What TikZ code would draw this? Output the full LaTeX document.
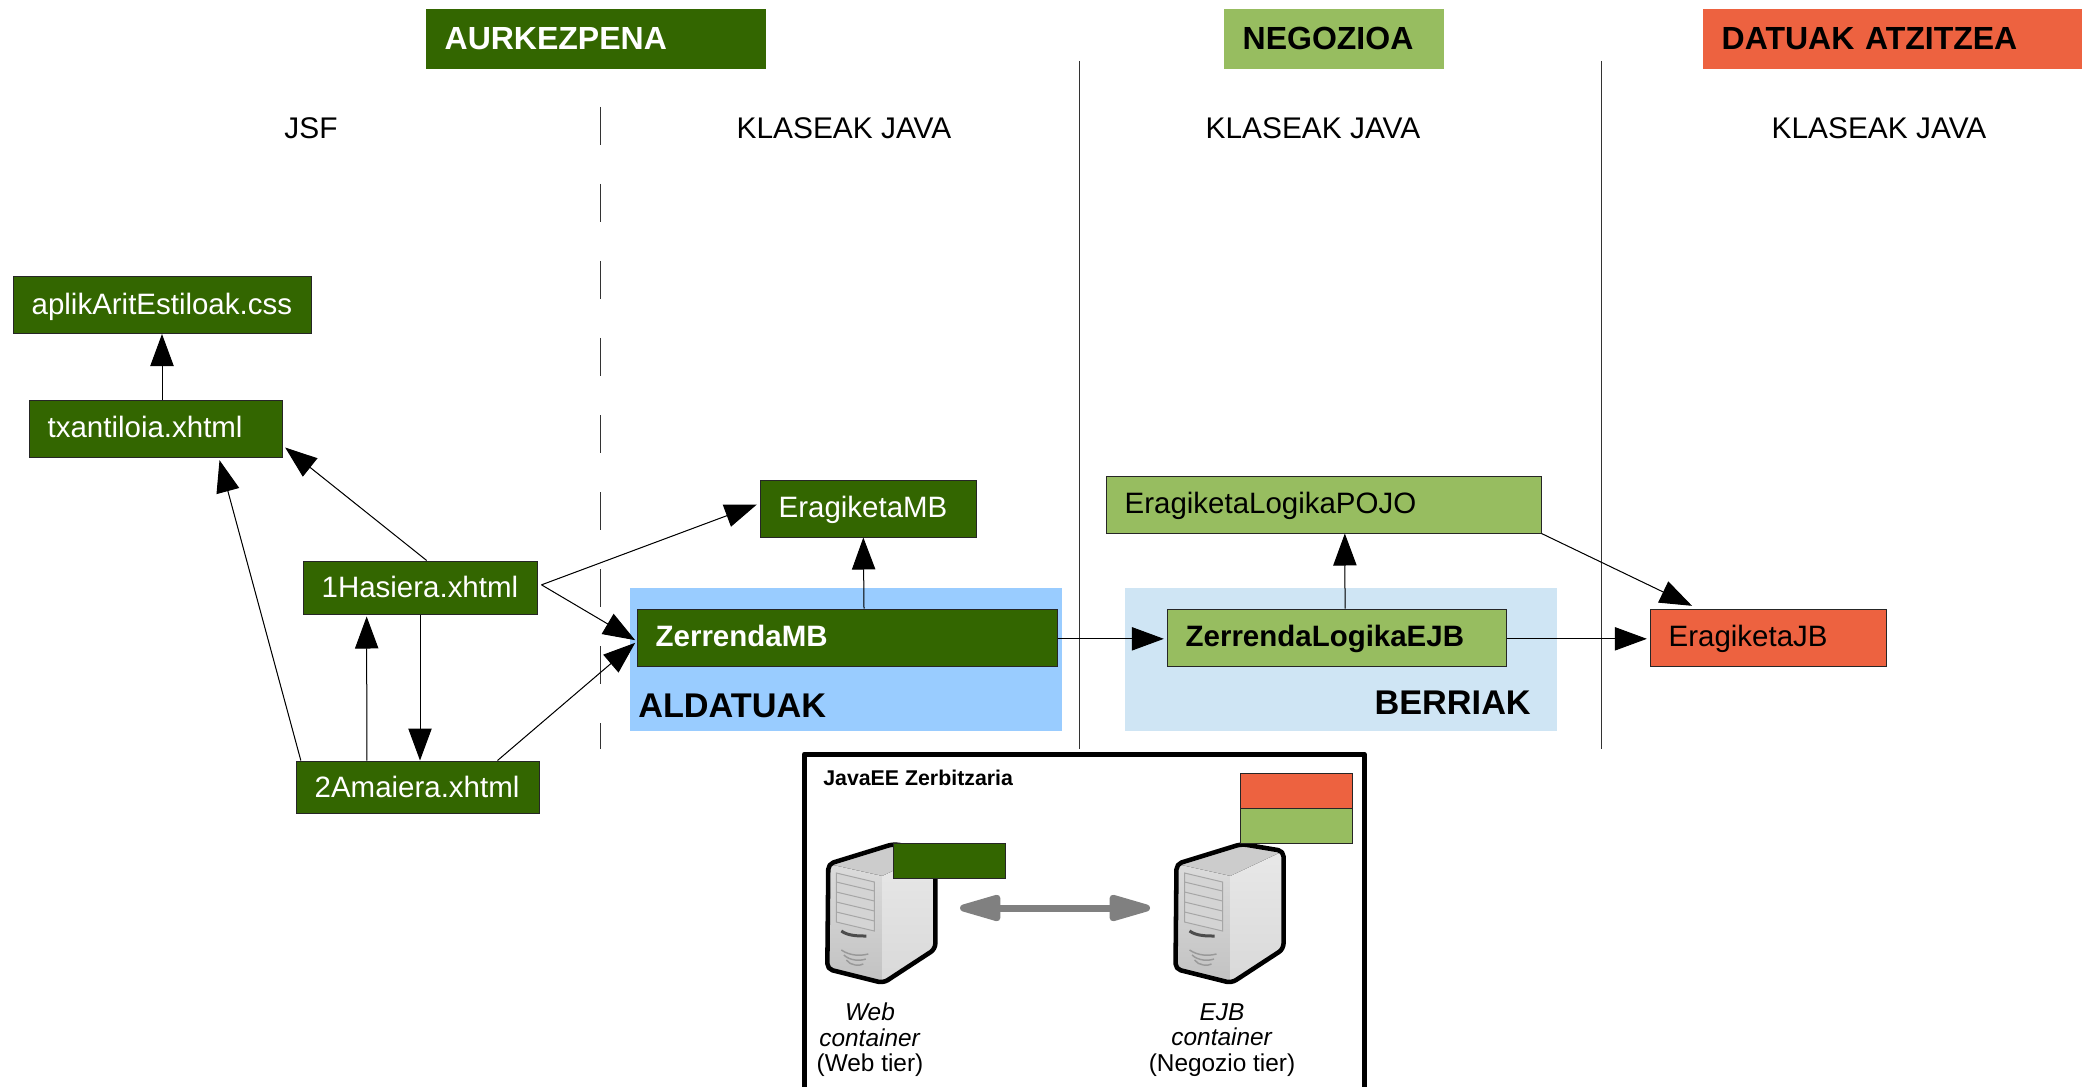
\documentclass[tikz,border=0pt]{standalone}
\usepackage{fontspec}
\setmainfont{Liberation Sans}
\usetikzlibrary{arrows.meta}
\definecolor{darkgreen}{HTML}{336600}
\definecolor{midgreen}{HTML}{97BD60}
\definecolor{brick}{HTML}{ED6240}
\definecolor{aldablue}{HTML}{99CCFF}
\definecolor{berriblue}{HTML}{CFE5F4}
\tikzset{
  tierbox/.style={draw=black!85,line width=0.75pt,inner xsep=14pt,inner ysep=0pt,align=left,minimum height=42.75pt,
    text height=17pt,text depth=3pt,font=\fontsize{22.1}{24}\selectfont},
  webbox/.style={tierbox,fill=darkgreen,text=white},
  logicbox/.style={tierbox,fill=midgreen},
  databox/.style={tierbox,fill=brick},
  headbox/.style={inner xsep=14pt,inner ysep=0pt,align=left,minimum height=45pt,text height=18pt,text depth=2pt,
    font=\fontsize{24}{26}\selectfont\bfseries},
  tierlabel/.style={font=\fontsize{22.4}{24}\selectfont},
  grouplabel/.style={font=\fontsize{25.7}{27}\selectfont\bfseries},
  containerlabel/.style={align=center,font=\fontsize{18.3}{19}\selectfont},
  arr/.style={-{Triangle[length=24pt,width=17.5pt]},line width=0.75pt,draw=black,fill=black},
  tierline/.style={line width=0.75pt,draw=black!80},
}
\newcommand{\servertower}[1]{
\begin{scope}[shift={#1}]
\fill[black!20] (0,20) -- (65,0) -- (107,7) -- (54,32) -- cycle;
\fill[top color=black!14,bottom color=black!24] (0,20) -- (54,32) -- (54,139) -- (0,125) -- cycle;
\fill[top color=black!9,bottom color=black!15] (54,32) -- (107,7) -- (107,105) -- (54,139) -- cycle;
\draw[black!35,line width=0.75pt,fill=black!17] (8,29) -- (46,38) -- (46,87) -- (8,78) -- cycle;
\foreach \vent in {9,19,29,39}
  \draw[black!35,line width=0.75pt] (8,29+\vent) -- (46,38+\vent);
\draw[black!70,line width=2.25pt] (13,87) .. controls (20,92) and (30,92) .. (38,92);
\foreach \vent in {0,5,10}
  \draw[black!40,line width=1.1pt] (13+\vent/2,106+\vent) .. controls (22,112+\vent) and (32,112+\vent) .. (40-\vent/2,110+\vent);
\draw[line width=3.4pt,line join=round,rounded corners=4pt] (0,20) -- (65,0) -- (107,7) -- (107,105) -- (55,139) -- (-1,125) -- cycle;
\end{scope}
}
\begin{document}
\begin{tikzpicture}[x=0.75pt,y=0.75pt,yscale=-1,xscale=1]
\clip (0,0) rectangle (2090,1087);
\fill[white] (0,0) rectangle (2090,1087);

% tier headers
\node[headbox,fill=darkgreen,text=white,text width=227pt] (aurkezpena) at (596,39) {AURKEZPENA};
\node[headbox,fill=midgreen,text width=137pt] (negozioa) at (1334,39) {NEGOZIOA};
\node[headbox,fill=brick,text width=256.25pt] (datuak) at (1892.5,39) {DATUAK ATZITZEA};

\node[tierlabel] (jsf) at (311,128) {JSF};
\node[tierlabel] (klasePres) at (844,128) {KLASEAK JAVA};
\node[tierlabel] (klaseNeg) at (1313,128) {KLASEAK JAVA};
\node[tierlabel] (klaseDat) at (1879,128) {KLASEAK JAVA};

% tier separators
\draw[tierline,dash pattern=on 28.5pt off 29.25pt] (600,107) -- (600,749);
\draw[tierline] (1079,61) -- (1079,749);
\draw[tierline] (1601,61) -- (1601,749);

% group backgrounds
\fill[aldablue] (630,588) rectangle (1062,731);
\fill[berriblue] (1125,588) rectangle (1557,731);
\node[grouplabel,anchor=west,inner sep=0pt] (aldatuak) at (638,706) {ALDATUAK};
\node[grouplabel,anchor=east,inner sep=0pt] (berriak) at (1531,703) {BERRIAK};

% boxes
\node[webbox,text width=195.5pt] (aplik) at (162,305) {aplikAritEstiloak.css};
\node[webbox,text width=161.75pt] (txantiloia) at (155.5,428.5) {txantiloia.xhtml};
\node[webbox,text width=147.5pt,minimum height=39.75pt,text depth=1.5pt] (hasiera) at (420,587.5) {1Hasiera.xhtml};
\node[webbox,text width=154.25pt,minimum height=39pt,text depth=1.5pt] (amaiera) at (417.5,787) {2Amaiera.xhtml};
\node[webbox,text width=134pt] (eragiketaMB) at (868,508.5) {EragiketaMB};
\node[webbox,text width=287pt] (zerrendaMB) at (847,637.5) {\textbf{ZerrendaMB}};
\node[logicbox,text width=226.25pt] (zerrendaEJB) at (1336.5,637.5) {\textbf{ZerrendaLogikaEJB}};
\node[logicbox,text width=298.25pt] (logikaPOJO) at (1323.5,504.5) {EragiketaLogikaPOJO};
\node[databox,text width=149pt] (eragiketaJB) at (1768,637.5) {EragiketaJB};

% connectors
\draw[arr] (txantiloia.north -| aplik.south) -- (aplik.south);
\draw[arr] ([xshift=5pt]hasiera.north) -- ([xshift=2pt,yshift=-7.5pt]txantiloia.south east);
\draw[arr] ([xshift=4pt]amaiera.north west) -- ([xshift=48pt,yshift=2pt]txantiloia.south);
\draw[arr] ([xshift=-38pt]amaiera.north) -- ([xshift=-40pt,yshift=1.5pt]hasiera.south);
\draw[arr] (hasiera.south) -- (hasiera.south |- amaiera.north);
\draw[arr] ([xshift=3pt,yshift=-2pt]hasiera.east) -- ([xshift=-2pt,yshift=-3pt]eragiketaMB.west);
\draw[arr] ([xshift=3pt,yshift=-2pt]hasiera.east) -- ([xshift=-1pt,yshift=2pt]zerrendaMB.west);
\draw[arr] ([xshift=60pt]amaiera.north) -- ([xshift=-1pt,yshift=4pt]zerrendaMB.west);
\draw[arr] ([xshift=12.75pt]zerrendaMB.north) -- ([xshift=-3.5pt]eragiketaMB.south);
\draw[arr] ([yshift=1pt]zerrendaMB.east) -- ([xshift=-2pt,yshift=1pt]zerrendaEJB.west);
\draw[arr] ([xshift=6.4pt]zerrendaEJB.north) -- ([xshift=16pt]logikaPOJO.south);
\draw[arr] ([yshift=1pt]zerrendaEJB.east) -- ([xshift=-2pt,yshift=1pt]eragiketaJB.west);
\draw[arr] (logikaPOJO.south east) -- ([xshift=-57pt,yshift=-2pt]eragiketaJB.north);

% server box
\draw[line width=3.75pt,line join=round] (804.5,1100) -- (804.5,754) -- (1364,754) -- (1364,1100);
\node[anchor=west,inner sep=0pt,font=\fontsize{16}{18}\selectfont\bfseries] (zerbitzaria) at (823,778) {JavaEE Zerbitzaria};
\servertower{(828.3,844)}
\servertower{(1176.5,844)}
\node[draw=black!85,line width=0.75pt,fill=brick,inner sep=0pt,minimum width=84pt,minimum height=26.25pt] (tierData) at (1296,790.5) {};
\node[draw=black!85,line width=0.75pt,fill=midgreen,inner sep=0pt,minimum width=84pt,minimum height=26.25pt] (tierLogic) at (1296,825.5) {};
\node[draw=black!85,line width=0.75pt,fill=darkgreen,inner sep=0pt,minimum width=84pt,minimum height=26.25pt] (tierWeb) at (949,860.5) {};
\coordinate (webEnd) at (960,908);
\coordinate (ejbEnd) at (1150,908);
\draw[{Triangle[round,length=38pt,width=20pt]}-{Triangle[round,length=38pt,width=20pt]},black!50,line width=5.25pt] (webEnd) -- (ejbEnd);
\node[containerlabel] (webText) at (870,1040) {\textit{Web}\\\textit{container}\\(Web tier)};
\node[containerlabel] (ejbText) at (1222,1040) {\textit{EJB}\\\textit{container}\\(Negozio tier)};

\end{tikzpicture}
\end{document}
